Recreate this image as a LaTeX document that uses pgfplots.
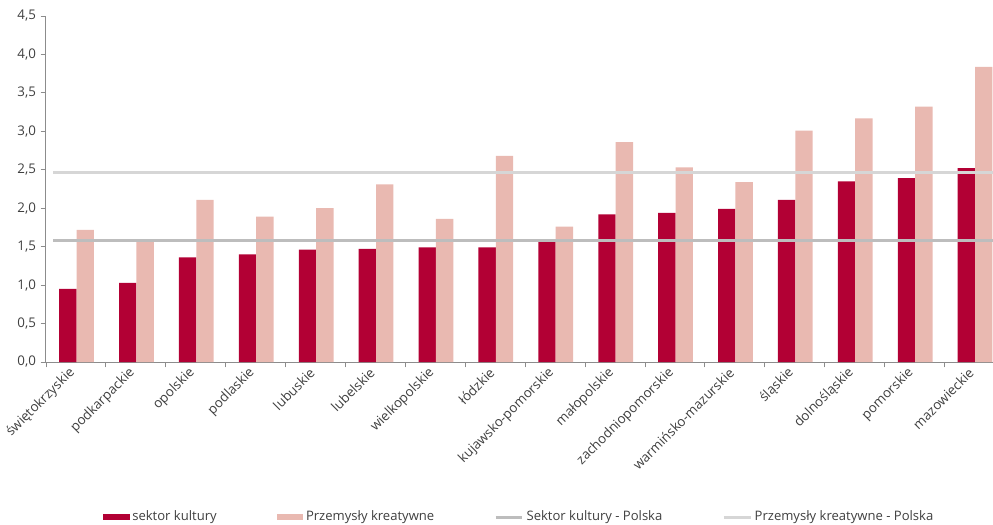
\documentclass[border=0pt]{standalone}
\usepackage{pgfplots}
\pgfplotsset{compat=1.18}
\usepackage{fontspec}
\setmainfont{Open Sans}

\definecolor{kultura}{HTML}{B20034}
\definecolor{kreatywne}{HTML}{E9B9B1}
\definecolor{liniaK}{HTML}{BDBDBD}
\definecolor{liniaP}{HTML}{D6D6D6}
\definecolor{osie}{HTML}{8C8C8C}
\definecolor{tekst}{HTML}{404040}

\begin{document}
\begin{tikzpicture}
% 1px = 0.75pt, axis box corner at (0,0)
\useasboundingbox (-34.5pt,-122.25pt) rectangle (710.25pt,271.5pt);
\begin{axis}[
    at={(0,0)}, anchor=south west,
    scale only axis, width=710.25pt, height=259.5pt,
    ybar, bar width=0.29,
    xmin=-0.5, xmax=15.31, ymin=0, ymax=4.5,
    axis lines*=left,
    axis line style={osie, line width=0.75pt},
    tick align=outside,
    tick style={osie, line width=0.6pt},
    major tick length=4pt, minor tick length=4pt,
    xtick={0,...,15},
    major x tick style={draw=none},
    minor xtick={-0.5,0.5,...,15.5},
    xticklabels={świętokrzyskie,podkarpackie,opolskie,podlaskie,lubuskie,lubelskie,wielkopolskie,łódzkie,kujawsko-pomorskie,małopolskie,zachodniopomorskie,warmińsko-mazurskie,śląskie,dolnośląskie,pomorskie,mazowieckie},
    xticklabel style={rotate=45, anchor=east, font=\fontsize{10}{12}\selectfont, text=tekst},
    ytick={0,0.5,...,4.5},
    yticklabel style={font=\fontsize{10}{12}\selectfont, text=tekst,
        /pgf/number format/.cd, fixed, fixed zerofill, precision=1, use comma},
    /pgf/number format/assume math mode=true,
    legend columns=4,
    legend cell align=left,
    legend style={draw=none, at={(0.5,-0.448)}, anchor=center,
        font=\fontsize{9.8}{12}\selectfont, text=tekst,
        /tikz/every even column/.append style={column sep=43pt}},
]
\addplot[fill=kultura, draw=none, bar shift=-0.135,
    legend image code/.code={\fill[kultura] (0pt,-2.5pt) rectangle (20pt,2.5pt);}]
    coordinates {(0,0.95) (1,1.03) (2,1.36) (3,1.40) (4,1.46) (5,1.47) (6,1.49) (7,1.49)
                 (8,1.57) (9,1.92) (10,1.94) (11,1.99) (12,2.11) (13,2.35) (14,2.39) (15,2.52)};
\addplot[fill=kreatywne, draw=none, bar shift=0.155,
    legend image code/.code={\fill[kreatywne] (0pt,-2.5pt) rectangle (20pt,2.5pt);}]
    coordinates {(0,1.72) (1,1.59) (2,2.11) (3,1.89) (4,2.00) (5,2.31) (6,1.86) (7,2.68)
                 (8,1.76) (9,2.86) (10,2.53) (11,2.34) (12,3.01) (13,3.17) (14,3.32) (15,3.84)};
\addplot[sharp plot, liniaK, line width=2.25pt,
    legend image code/.code={\draw[liniaK, line width=2.25pt] (0pt,0pt) -- (20pt,0pt);}]
    coordinates {(-0.38,1.58) (15.5,1.58)};
\addplot[sharp plot, liniaP, line width=2.25pt,
    legend image code/.code={\draw[liniaP, line width=2.25pt] (0pt,0pt) -- (20pt,0pt);}]
    coordinates {(-0.38,2.47) (15.5,2.47)};
\legend{sektor kultury, Przemysły kreatywne, Sektor kultury - Polska, Przemysły kreatywne - Polska}
\end{axis}
\end{tikzpicture}
\end{document}
